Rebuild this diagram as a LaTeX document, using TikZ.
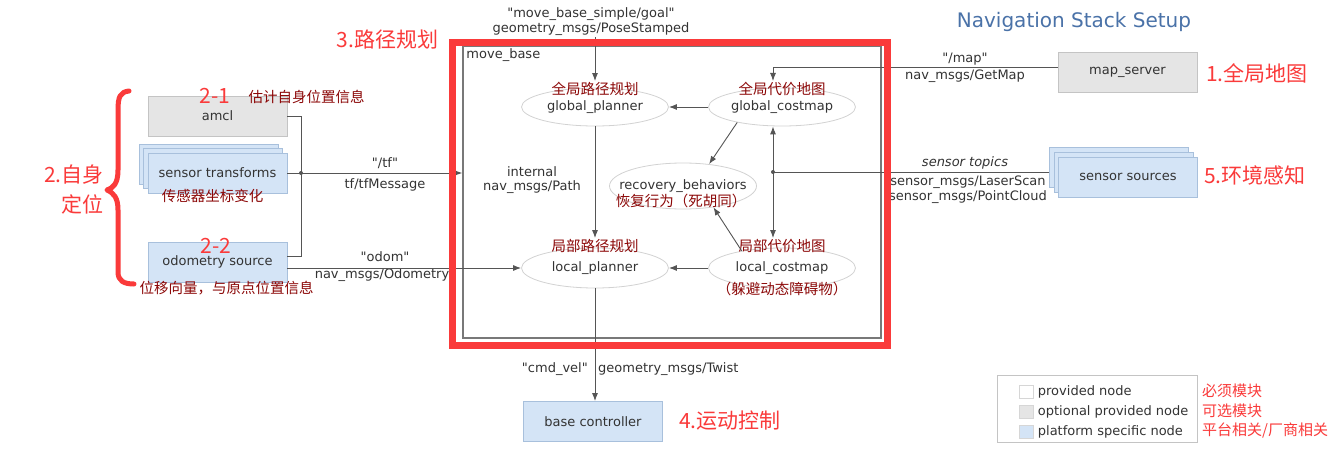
\documentclass[tikz,border=0pt]{standalone}
\usepackage{fontspec}
\setmainfont{DejaVu Sans}[Ligatures=TeXOff]
\newfontfamily\cjk{Noto Sans CJK SC}
\usetikzlibrary{shapes.geometric, arrows.meta, positioning, calc}

\definecolor{optgray}{RGB}{229,229,229}
\definecolor{optedge}{RGB}{196,196,196}
\definecolor{platblue}{RGB}{212,228,246}
\definecolor{platedge}{RGB}{168,192,220}
\definecolor{ellgray}{RGB}{210,210,210}
\definecolor{linegray}{RGB}{85,85,85}
\definecolor{boxgray}{RGB}{120,120,120}
\definecolor{txtgray}{RGB}{51,51,51}
\definecolor{markred}{RGB}{250,58,58}
\definecolor{notered}{RGB}{140,8,8}
\definecolor{titleblue}{RGB}{74,114,168}

\begin{document}
\begin{tikzpicture}[
    x=1pt, y=-1pt,
    every node/.style={text=txtgray, font=\fontsize{13}{15}\selectfont},
    optnode/.style={rectangle, draw=optedge, fill=optgray, thick, minimum width=139pt, minimum height=40pt},
    platnode/.style={rectangle, draw=platedge, fill=platblue, thick, minimum width=139pt, minimum height=40pt},
    provnode/.style={ellipse, draw=ellgray, fill=white, thick, inner sep=0pt, minimum width=147pt, minimum height=38pt,
        label={[inner sep=0pt]center:#1}},
    msg/.style={align=center, inner sep=1pt},
    zh/.style={font=\cjk\fontsize{14.5}{17}\selectfont, text=notered, inner sep=1pt},
    big/.style={font=\cjk\fontsize{21}{30}\selectfont, text=markred, inner sep=0pt},
    legsq/.style={rectangle, draw=optedge!70, minimum width=14pt, minimum height=13pt, inner sep=0pt},
    wire/.style={draw=linegray, line width=0.9pt},
    arr/.style={draw=linegray, line width=0.9pt, -{Latex[length=8pt,width=6pt]}},
    darr/.style={draw=linegray, line width=0.9pt, {Latex[length=8pt,width=6pt]}-{Latex[length=8pt,width=6pt]}}
]
\fill[white] (0,0) rectangle (1339,455);
\useasboundingbox (0,0) rectangle (1339,455);

% Nodes
\node[font=\fontsize{20}{24}\selectfont, text=titleblue] (title) at (1074,22) {Navigation Stack Setup};

\node[draw=boxgray, line width=1.5pt, minimum width=418pt, minimum height=292pt] (mb) at (672,192) {};
\node[anchor=north west, inner sep=1pt] (mblabel) at ([xshift=3pt,yshift=-2pt]mb.north west) {move\_base};

\node[provnode=global\_planner] (gp) at (595,107) {};
\node[provnode=global\_costmap] (gcmap) at (782,107) {};
\node[provnode=recovery\_behaviors, minimum height=46pt] (rec) at (683,186) {};
\node[provnode=local\_planner, minimum height=40pt] (lp) at (595,268) {};
\node[provnode=local\_costmap, minimum height=40pt] (lcmap) at (782,268) {};

\node[optnode] (amcl) at (217.5,116) {amcl};
\node[platnode] (st3) at (208.5,164) {};
\node[platnode] (st2) at (213,168.5) {};
\node[platnode] (st1) at (217.5,173) {sensor transforms};
\node[platnode] (odom) at (217.5,262) {odometry source};

\node[optnode] (map) at (1127.5,72) {map\_server};
\node[platnode] (ss3) at (1119,167) {};
\node[platnode] (ss2) at (1123.5,172) {};
\node[platnode] (ss1) at (1128,177) {sensor sources};

\node[platnode] (base) at (593,421.5) {base controller};

\coordinate (tfdot) at (301,173);
\coordinate (oddot) at (301,256);
\coordinate (sdot) at (773,172);
\coordinate (vx) at (773,0);

% Messages
\node[msg] (goal) at (591,22) {"move\_base\_simple/goal"\\geometry\_msgs/PoseStamped};
\node[msg] (tftop) at (385,163) {"/tf"};
\node[msg] (tfbot) at (385,185) {tf/tfMessage};
\node[msg] (odtop) at (385,257) {"odom"};
\node[msg] (odbot) at (382,275) {nav\_msgs/Odometry};
\node[msg, font=\fontsize{13}{14}\selectfont] (path) at (532,180) {internal\\nav\_msgs/Path};
\node[msg, font=\fontsize{13}{17}\selectfont] (mapmsg) at (965,68) {"/map"\\nav\_msgs/GetMap};
\node[msg, font=\itshape\fontsize{13}{15}\selectfont] (senstop) at (965,163) {sensor topics};
\node[msg, font=\fontsize{13}{15}\selectfont] (sensbot) at (968,189.5) {sensor\_msgs/LaserScan\\sensor\_msgs/PointCloud};
\node[msg, anchor=east] (cmdtop) at (589,369) {"cmd\_vel"};
\node[msg, anchor=west] (cmdbot) at (597,369) {geometry\_msgs/Twist};

% Chinese notes
\node[zh] (gpzh) at (595,89) {全局路径规划};
\node[zh] (gczh) at (782,89) {全局代价地图};
\node[zh] (reczh) at (681,201) {恢复行为（死胡同）};
\node[zh] (lpzh) at (595,246) {局部路径规划};
\node[zh] (lczh) at (782,246) {局部代价地图};
\node[zh] (lcnote) at (782,289) {（躲避动态障碍物）};
\node[zh] (amclzh) at (306.5,97) {估计自身位置信息};
\node[zh] (stzh) at (212.5,196) {传感器坐标变化};
\node[zh] (odzh) at (226.5,288) {位移向量，与原点位置信息};

% Paths
\draw[arr] (gp.north |- goal.south) -- (gpzh.north);
\draw[arr] (gcmap.west) -- (gp.east);
\draw[arr] (gp.south) -- (lpzh.north);
\draw[arr] (gcmap.199) -- (rec.40);
\draw[arr] (lcmap.157) -- (rec.325);
\draw[arr] (lcmap.west) -- (lp.east);
\draw[darr] (vx |- gcmap.south) -- (vx |- lczh.north);
\draw[arr] ([yshift=5pt]map.west) -| (vx |- gczh.north);
\draw[wire] (ss3.west |- sdot) -- (sdot);
\fill[linegray] (sdot) circle (2pt);

\draw[wire] (amcl.east) -| (oddot) -- (oddot -| odom.east);
\draw[arr] (st1.east) -- (st1.east -| mb.west);
\fill[linegray] (tfdot) circle (2pt);
\draw[arr] (odom.east |- lp.west) -- (lp.west);
\draw[arr] (lp.south) -- (lp.south |- base.north);

% Legend
\node[draw=optedge, thick, minimum width=200pt, minimum height=67pt] (legend) at (1097,408.5) {};
\node[legsq, fill=white] (lg1) at (1026.5,391.5) {};
\node[legsq, fill=optgray] (lg2) at (1026.5,411.5) {};
\node[legsq, fill=platblue] (lg3) at (1026.5,431.5) {};
\node[right=4pt of lg1, inner sep=0pt] (lt1) {provided node};
\node[right=4pt of lg2, inner sep=0pt] (lt2) {optional provided node};
\node[right=4pt of lg3, inner sep=0pt] (lt3) {platform specific node};
\node[zh, text=markred, font=\cjk\fontsize{15}{17}\selectfont, anchor=west] (lz1) at (1201,391) {必须模块};
\node[zh, text=markred, font=\cjk\fontsize{15}{17}\selectfont, anchor=west] (lz2) at (1201,411) {可选模块};
\node[zh, text=markred, font=\cjk\fontsize{15}{17}\selectfont, anchor=west] (lz3) at (1201,431) {平台相关/厂商相关};

% Red marks
\node[draw=markred, line width=7pt, minimum width=435pt, minimum height=303pt] (focus) at (670,194) {};
\node[big] (mark3) at (387.5,40) {3.路径规划};
\node[big] (mark1) at (1257,73) {1.全局地图};
\node[big] (mark5) at (1255,175) {5.环境感知};
\node[big] (mark4) at (730,421) {4.运动控制};
\node[big] (mark21) at (215,96) {2-1};
\node[big] (mark22) at (216,246) {2-2};
\node[big, align=right, anchor=east] (mark2) at (104,190) {2.自身\\定位};
\draw[markred, line width=5pt, line cap=round, line join=round]
  (129,91) .. controls (120,92) and (118,97) .. (118,110) -- (118,170)
  .. controls (118,184) and (113,188) .. (107,190)
  .. controls (114,193) and (118,198) .. (118,210) -- (118,272)
  .. controls (118,281) and (124,284) .. (134,284);
\end{tikzpicture}
\end{document}
